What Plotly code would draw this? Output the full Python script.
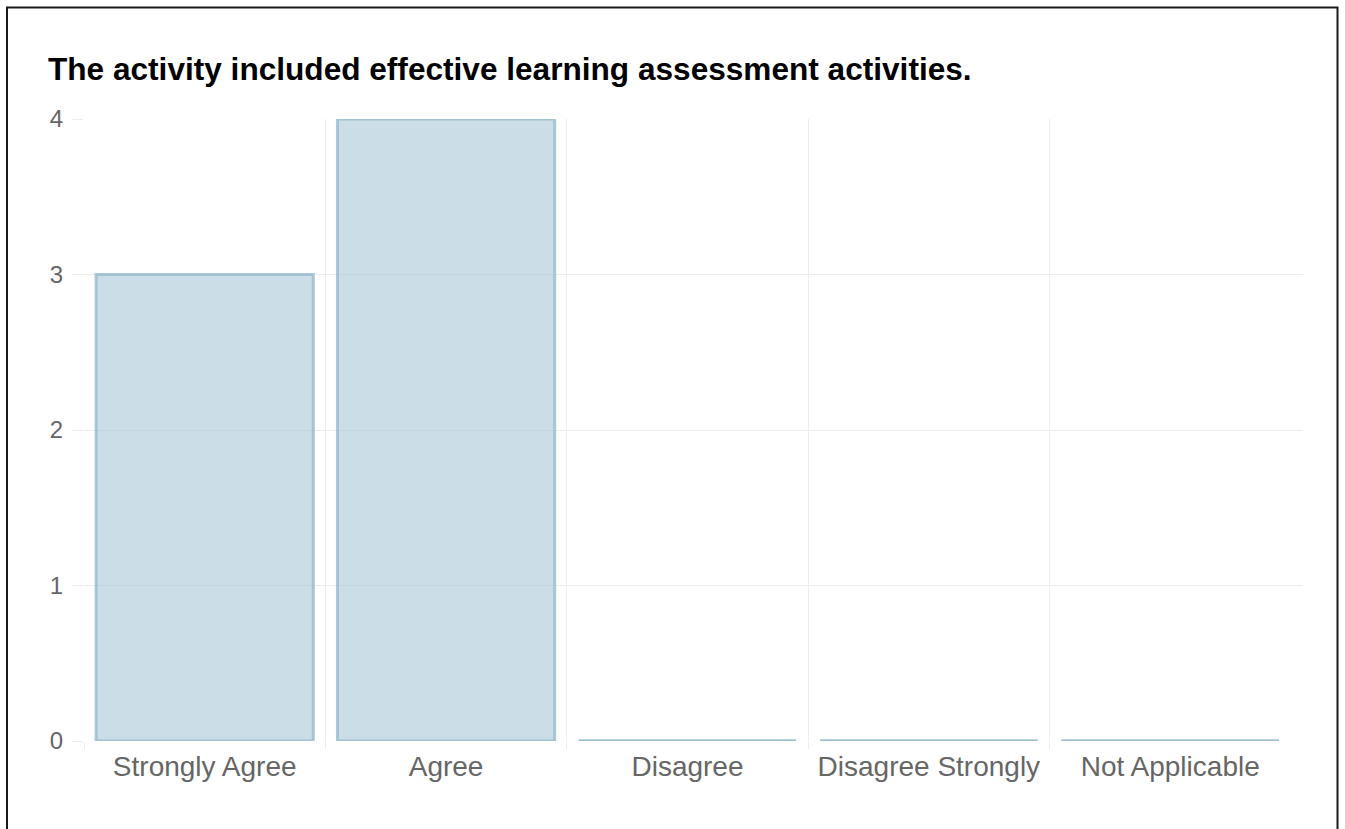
import plotly.graph_objects as go

categories = ["Strongly Agree", "Agree", "Disagree", "Disagree Strongly", "Not Applicable"]
counts = [3, 4, 0, 0, 0]
y_ticks = [0, 1, 2, 3, 4]
title_text = "The activity included effective learning assessment activities."

FILL = "rgba(151,187,205,0.5)"
STROKE = "rgba(151,187,205,0.8)"
GRID = "#ececec"
LABEL = "#666666"
FONT = "Liberation Sans, Arial, sans-serif"

W, H = 1345, 829
L, R, T, B = 84, 42, 119, 88
BAR_W = 0.9
X_RANGE = [-0.5, len(categories) - 0.45]

fig = go.Figure()
fig.add_trace(
    go.Bar(
        x=categories,
        y=counts,
        width=BAR_W,
        marker=dict(color=FILL, line=dict(color=STROKE, width=3)),
        showlegend=False,
        hovertemplate="%{x}: %{y}<extra></extra>",
    )
)

# chart.js draws zero-height bars as a flat stroke; plotly hides them
zx, zy = [], []
for i, v in enumerate(counts):
    if v == 0:
        zx += [i - BAR_W / 2, i + BAR_W / 2, None]
        zy += [v, v, None]
fig.add_trace(
    go.Scatter(
        x=zx, y=zy, xaxis="x2", mode="lines",
        line=dict(color=STROKE, width=3), showlegend=False, hoverinfo="skip",
    )
)

pw, ph = W - L - R, H - T - B
fig.add_shape(
    type="rect", xref="paper", yref="paper", layer="above",
    x0=(7 - L) / pw, x1=(1337.5 - L) / pw,
    y0=-0.5, y1=(H - B - 7.5) / ph,
    line=dict(color="#1a1a1a", width=2),
)

fig.update_layout(
    width=W,
    height=H,
    paper_bgcolor="white",
    plot_bgcolor="white",
    font=dict(family=FONT, color=LABEL, size=24),
    margin=dict(l=L, r=R, t=T, b=B, autoexpand=False),
    title=dict(
        text=title_text,
        font=dict(family=FONT, size=31.6, color="black", weight="bold"),
        x=48 / W, xanchor="left", xref="container",
        y=1 - 69 / H, yanchor="middle", yref="container",
    ),
    bargap=0.1,
    xaxis=dict(
        type="category",
        range=X_RANGE,
        showgrid=False,
        zeroline=False,
        showline=False,
        ticks="",
        tickfont=dict(size=28, color=LABEL),
        ticklabelstandoff=6,
    ),
    xaxis2=dict(
        overlaying="x",
        range=X_RANGE,
        tickvals=[i - 0.5 for i in range(len(categories))],
        showticklabels=False,
        showgrid=True,
        gridcolor=GRID,
        gridwidth=1,
        ticks="outside",
        ticklen=7,
        tickcolor=GRID,
        zeroline=False,
        showline=False,
        layer="below traces",
    ),
    yaxis=dict(
        range=[0, 4],
        tickvals=y_ticks,
        showgrid=True,
        gridcolor=GRID,
        zeroline=False,
        showline=False,
        ticks="outside",
        ticklen=11,
        tickcolor=GRID,
        tickfont=dict(size=24, color=LABEL),
        ticklabelstandoff=4,
    ),
)

fig.write_html(
    "out.html",
    config={"displayModeBar": False},
    post_script="document.body.style.margin = '0';",
)
